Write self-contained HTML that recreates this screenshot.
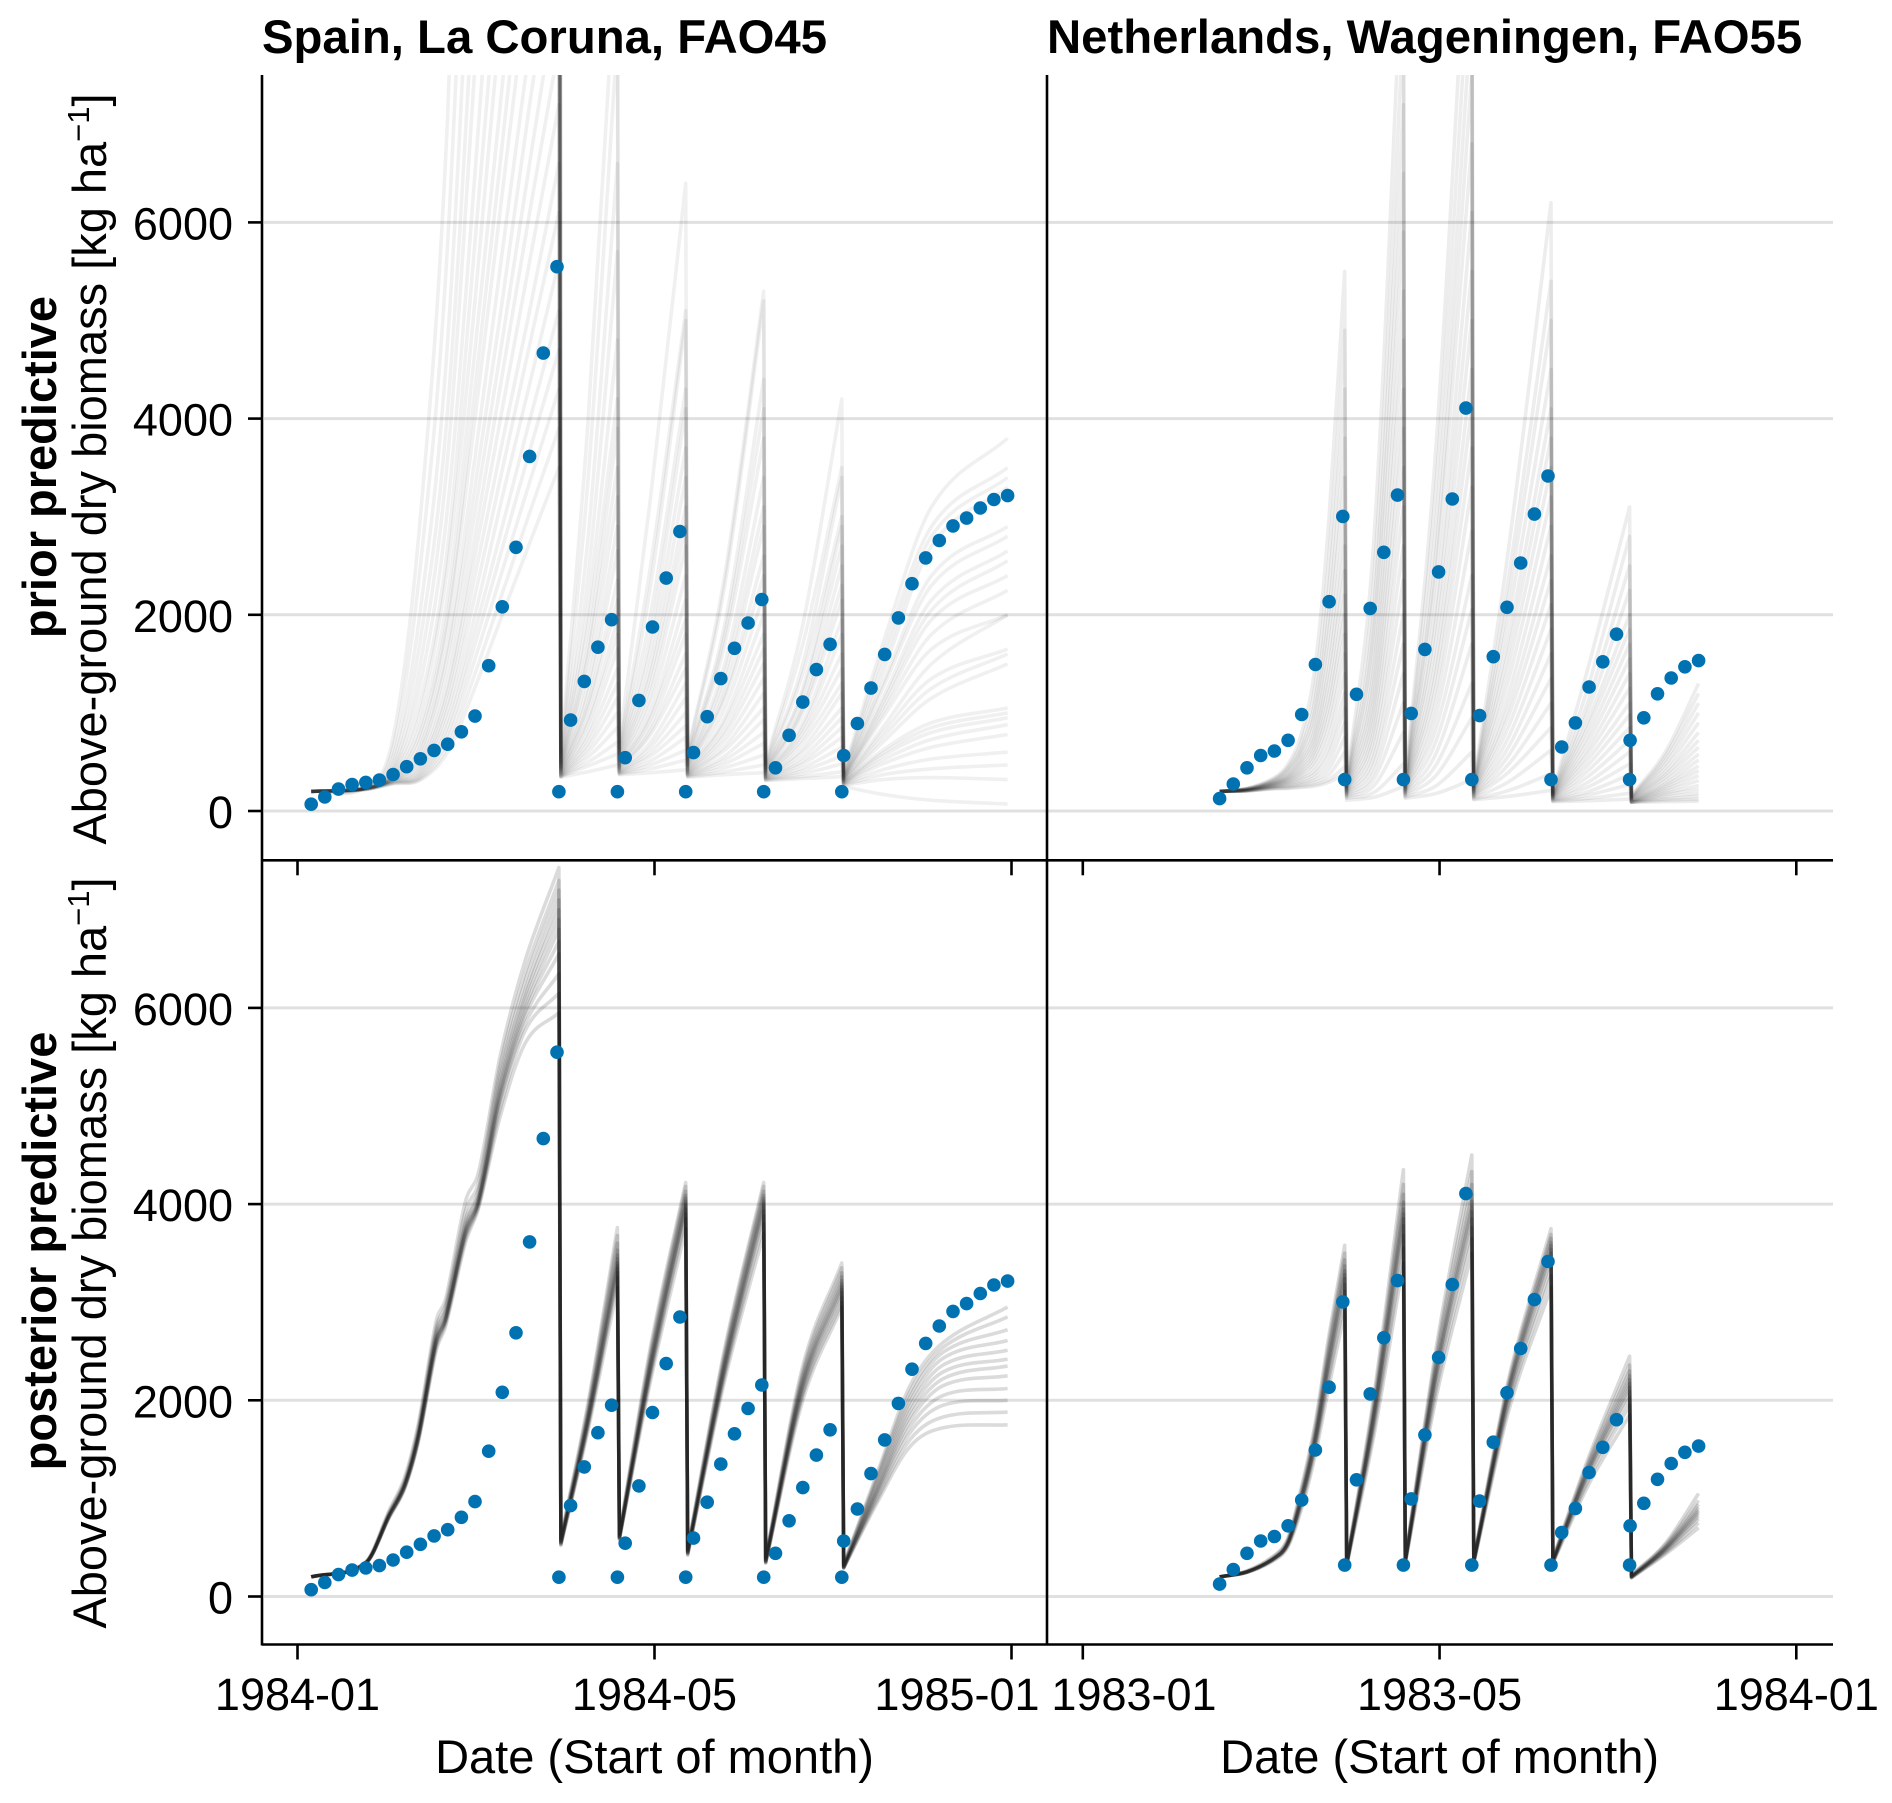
<!DOCTYPE html>
<html lang="en">
<head>
<meta charset="utf-8">
<title>Above-ground dry biomass predictive checks</title>
<style>
html,body{margin:0;padding:0;background:#fff;}
svg{display:block;font-family:"Liberation Sans",sans-serif;fill:#000;}
.title{font-size:47.3px;font-weight:bold;}
.tick{font-size:45px;}
.axis{font-size:47px;}
.row{font-size:47px;font-weight:bold;}
</style>
</head>
<body>
<svg id="chart" width="1892" height="1803" viewBox="0 0 1892 1803" xmlns="http://www.w3.org/2000/svg">
  <defs>
    <clipPath id="clip-a"><rect x="262" y="75" width="785" height="785"/></clipPath>
    <clipPath id="clip-b"><rect x="1047" y="75" width="786" height="785"/></clipPath>
    <clipPath id="clip-c"><rect x="262" y="860" width="785" height="785"/></clipPath>
    <clipPath id="clip-d"><rect x="1047" y="860" width="786" height="785"/></clipPath>
  </defs>
  <g id="grid"></g>
  <g id="series"></g>
  <g id="points"></g>
  <g id="axes"></g>

  <text class="title" x="262" y="53">Spain, La Coruna, FAO45</text>
  <text class="title" x="1047" y="53">Netherlands, Wageningen, FAO55</text>

  <text class="row" transform="translate(56,467) rotate(-90)" text-anchor="middle">prior predictive</text>
  <text class="row" transform="translate(56,1251) rotate(-90)" text-anchor="middle">posterior predictive</text>

  <text class="axis" transform="translate(106,469) rotate(-90)" text-anchor="middle">Above-ground dry biomass [kg ha<tspan font-size="31" dy="-17">−1</tspan><tspan dy="17">]</tspan></text>
  <text class="axis" transform="translate(106,1253) rotate(-90)" text-anchor="middle">Above-ground dry biomass [kg ha<tspan font-size="31" dy="-17">−1</tspan><tspan dy="17">]</tspan></text>

  <text class="axis" x="654.5" y="1773" text-anchor="middle">Date (Start of month)</text>
  <text class="axis" x="1439.6" y="1773" text-anchor="middle">Date (Start of month)</text>
</svg>
<script>
// ---- axis ticks ----
const yTickValues = [0, 2000, 4000, 6000];
const xTickDaysSpain = [0, 183, 366];
const xTickDaysNetherlands = [0, 182.5, 365];
const xTickLabelsSpain = ["1984-01", "1984-05", "1985-01"];
const xTickLabelsNetherlands = ["1983-01", "1983-05", "1984-01"];

// ---- observations, Spain ----
const obsDaysSpain = [7,14,21,28,35,42,49,56,63,70,77,84,91,98,105,112,119,126,133,140,147,154,161,168,175,182,189,196,203,210,217,224,231,238,245,252,259,266,273,280,287,294,301,308,315,322,329,336,343,350,357,364];
const obsValuesSpain = [69,143,223,269,292,315,372,452,532,618,681,807,967,1481,2082,2688,3615,4668,5548,927,1321,1670,1950,543,1127,1876,2374,2849,595,961,1350,1659,1916,2156,440,772,1110,1441,1699,566,892,1253,1596,1968,2317,2580,2757,2906,2986,3089,3175,3215];
const harvestDaysSpain = [134,164,199,239,279];
const harvestValuesSpain = [197,197,197,197,197];

// ---- observations, Netherlands ----
const obsDaysNetherlands = [70,77,84,91,98,105,112,119,126,133,140,147,154,161,168,175,182,189,196,203,210,217,224,231,238,245,252,259,266,273,280,287,294,301,308,315];
const obsValuesNetherlands = [126,275,440,566,612,721,984,1493,2134,3003,1190,2065,2637,3220,995,1647,2437,3180,4107,972,1573,2076,2528,3026,3415,652,898,1264,1521,1802,721,950,1195,1356,1470,1533];
const harvestDaysNetherlands = [134,164,199,239.5,279.7];
const harvestValuesNetherlands = [320,320,320,320,320];

// ---- ensemble knots ----
const priorKnotsSpain = [7,35,49,63,77,91,105,119,134,135,149,164,165,181,199,200,219,239,240,259,279,280,300,325,364];
const priorKnotsNetherlands = [70,84,98,105,112,119,126,134,135,149,164,165,181,199,200,218,239.5,240.5,259,279.7,280.7,298,315];
const posteriorKnotsSpain = [7,35,47,55,62,71,76,86,93,104,117,134,135,149,164,165,181,199,200,219,239,240,259,279,280,297,314,331,364];
const posteriorKnotsNetherlands = [70,84,98,105,112,119,126,134,135,149,164,165,181,199,200,218,239.5,240.5,259,279.7,280.7,298,315];

// ---- ensemble members ----
const priorMembersSpain = [
[200,240,750,3000,7100,15100,24000,33000,42000,600,4000,9000,700,3200,6400,600,2400,5300,500,1900,4200,400,1700,3100,3800],
[200,240,650,2500,5800,12200,19400,26500,34000,560,3400,7900,650,2500,5100,580,2300,5200,480,1700,3500,380,1600,2900,3500],
[200,240,560,2050,4800,10100,16000,21800,28000,520,2800,6600,620,2300,5000,560,1900,4400,470,1500,3400,370,1500,2800,3400],
[200,235,500,1750,4100,8600,13700,18700,24000,500,2400,5700,600,2000,4300,540,1800,4100,450,1400,3000,360,1400,2700,3300],
[200,235,450,1500,3600,7600,12000,16400,21000,480,2100,4800,580,1800,4100,520,1700,3800,440,1250,2900,350,1300,2400,2900],
[200,235,420,1300,3100,6500,10300,14000,18000,460,1900,4200,560,1650,3700,500,1500,3400,430,1200,2700,340,1250,2300,2800],
[200,235,400,1120,2700,5800,9100,12500,16000,450,1700,3900,540,1500,3400,480,1400,3100,420,1100,2500,340,1150,2150,2650],
[200,235,380,1000,2500,5200,8300,11300,14500,440,1600,3500,520,1400,3100,470,1300,2900,410,1050,2300,330,1100,2050,2550],
[200,235,365,880,2200,4700,7400,10100,13000,430,1450,3200,500,1300,2900,460,1200,2600,400,1000,2150,330,1050,1950,2400],
[200,230,355,800,2000,4300,6800,9400,12000,420,1300,2900,490,1200,2700,450,1150,2400,390,900,1950,320,1000,1800,2250],
[200,230,345,730,1900,4000,6300,8600,11000,410,1200,2650,470,1100,2400,430,1050,2200,380,850,1800,320,950,1650,2000],
[200,230,335,660,1700,3600,5700,7800,10000,400,1100,2350,460,1000,2150,420,950,2000,370,800,1600,310,850,1500,2000],
[200,230,330,610,1600,3300,5200,7200,9200,390,1050,2150,450,950,1950,410,900,1800,360,750,1450,310,800,1350,1650],
[200,230,325,560,1450,3050,4800,6600,8500,380,950,1950,440,880,1800,400,830,1650,350,700,1300,300,750,1250,1600],
[200,230,320,520,1300,2800,4450,6100,7800,380,900,1800,430,820,1600,390,780,1500,350,640,1200,300,700,1150,1500],
[200,225,315,480,1220,2600,4100,5600,7200,370,820,1650,420,780,1450,385,720,1350,340,600,1050,290,620,900,1050],
[200,225,310,450,1120,2400,3760,5100,6600,370,760,1450,410,700,1300,380,660,1200,340,550,950,290,590,850,1000],
[200,225,305,420,1040,2200,3480,4750,6100,360,700,1300,400,650,1150,375,620,1050,335,510,850,285,560,800,950],
[200,225,300,395,950,2000,3200,4350,5600,360,650,1150,395,600,1000,370,560,930,330,480,750,280,520,730,880],
[200,225,295,375,870,1840,2900,3980,5100,355,600,1000,390,560,870,365,520,800,325,440,650,275,480,650,780],
[200,220,290,355,800,1700,2680,3670,4700,355,550,850,385,510,750,360,480,690,320,410,560,270,420,530,600],
[200,220,285,340,730,1550,2450,3350,4300,350,500,700,380,470,620,355,440,570,318,380,480,265,370,430,470],
[200,220,280,325,660,1400,2220,3040,3900,350,460,580,375,430,520,350,400,470,315,350,400,260,320,340,320],
[200,220,275,315,600,1260,2000,2730,3500,345,400,470,370,390,420,345,370,390,310,330,350,250,170,110,70]
];
const priorMembersNetherlands = [
[200,230,340,480,800,1500,3000,5500,300,2800,9000,320,3800,10000,300,2700,6200,200,1500,3100,160,600,1300],
[200,230,330,450,720,1300,2600,4900,290,2400,8000,300,3400,9000,280,2400,5400,190,1300,2800,150,560,1200],
[200,225,320,430,660,1150,2300,4300,280,2100,7200,290,3000,8200,270,2200,5000,180,1150,2500,145,520,1100],
[200,225,310,410,620,1050,2050,3800,270,1900,6500,280,2700,7500,260,2000,4500,175,1050,2250,140,480,1000],
[200,225,305,390,580,950,1850,3400,260,1700,5900,270,2500,6800,250,1800,4100,170,950,2000,135,440,900],
[200,220,295,370,540,860,1650,3000,250,1500,5300,260,2200,6100,240,1650,3800,165,880,1850,130,400,800],
[200,220,290,360,510,790,1480,2700,240,1350,4800,250,2000,5500,230,1500,3500,160,800,1700,125,370,720],
[200,220,285,345,480,730,1340,2450,230,1200,4300,240,1800,5000,220,1350,3200,155,730,1550,120,340,650],
[200,215,280,335,450,670,1200,2200,220,1080,3900,230,1600,4500,210,1200,2900,150,660,1400,115,310,580],
[200,215,275,325,425,620,1090,2000,210,960,3500,220,1450,4100,200,1080,2600,145,600,1250,110,280,520],
[200,215,270,315,400,570,980,1800,200,850,3100,215,1300,3700,195,980,2350,140,540,1100,105,260,460],
[200,215,265,305,380,520,870,1600,195,750,2700,205,1150,3300,185,870,2100,135,480,980,100,240,410],
[200,210,260,295,355,470,760,1400,185,650,2350,195,1000,2850,175,760,1850,130,420,850,100,220,360],
[200,210,255,285,335,420,660,1200,175,560,2000,190,860,2400,165,660,1600,125,360,720,95,200,310],
[200,210,250,275,315,385,580,1050,170,480,1700,180,730,2050,155,570,1350,120,300,600,95,180,260],
[200,210,245,265,295,350,500,900,160,400,1400,170,600,1700,150,480,1100,115,250,480,90,165,220],
[200,210,240,255,280,320,430,750,150,330,1100,160,480,1300,140,400,850,110,200,370,90,145,180],
[200,205,235,245,265,295,370,600,140,260,800,150,370,950,130,300,620,105,165,270,90,125,150],
[200,205,230,235,250,270,320,450,130,190,480,140,260,600,120,210,380,100,130,180,90,110,120],
[200,205,225,230,240,255,295,380,110,140,250,130,180,320,115,150,210,95,105,120,90,95,100]
];
const posteriorMembersSpain = [
[200,335,800,1100,1580,2500,2760,3600,3970,4900,5650,5950,520,1700,3150,580,2200,3750,420,2200,3700,340,2000,2950,290,950,1530,1720,1750],
[200,338,810,1110,1600,2530,2790,3640,3990,4980,5780,6150,530,1740,3250,590,2250,3850,430,2250,3800,345,2050,3000,290,980,1600,1830,1880],
[200,340,815,1120,1610,2560,2810,3670,4010,5050,5850,6350,535,1760,3300,590,2280,3900,435,2280,3880,350,2080,3050,295,1010,1670,1950,2000],
[200,340,820,1125,1620,2580,2830,3690,4030,5090,5920,6550,540,1780,3340,595,2310,3950,440,2310,3930,355,2110,3100,295,1040,1730,2050,2120],
[200,340,820,1130,1630,2590,2830,3710,4040,5120,5970,6680,545,1790,3370,600,2330,3980,445,2330,3970,360,2140,3130,300,1060,1790,2150,2250],
[200,342,825,1135,1640,2600,2840,3720,4050,5150,6020,6800,550,1810,3400,600,2350,4000,450,2350,4000,360,2160,3160,300,1080,1840,2220,2350],
[200,342,830,1140,1650,2620,2860,3740,4070,5190,6080,6900,555,1830,3440,605,2370,4030,455,2370,4030,365,2180,3190,305,1100,1890,2290,2420],
[200,345,835,1150,1660,2640,2880,3770,4090,5230,6140,7000,560,1850,3480,610,2390,4060,460,2390,4060,370,2200,3220,305,1130,1940,2360,2510],
[200,345,840,1160,1680,2670,2910,3800,4130,5290,6200,7100,565,1870,3530,615,2420,4090,465,2420,4090,375,2230,3260,310,1160,1990,2430,2610],
[200,348,850,1170,1700,2700,2940,3840,4170,5350,6290,7200,575,1900,3600,620,2460,4130,470,2450,4130,380,2260,3300,315,1190,2040,2490,2720],
[200,350,860,1190,1730,2740,2980,3920,4240,5430,6380,7300,585,1940,3680,630,2500,4180,480,2490,4180,390,2300,3350,320,1220,2090,2540,2850],
[200,355,880,1220,1770,2800,3040,4020,4340,5520,6500,7430,600,1980,3760,640,2550,4220,490,2530,4220,400,2350,3400,330,1250,2150,2590,2950]
];
const posteriorMembersNetherlands = [
[200,245,370,510,900,1450,2150,2900,310,1650,3400,340,2050,3500,340,1900,3150,340,1150,1850,190,430,700],
[200,248,380,525,940,1510,2240,3020,315,1720,3550,345,2130,3650,345,1960,3270,345,1200,1950,195,445,750],
[200,250,385,535,965,1550,2300,3110,320,1770,3680,350,2200,3760,350,2000,3360,350,1240,2030,195,460,790],
[200,250,388,540,985,1575,2350,3180,325,1810,3780,355,2250,3850,355,2040,3440,355,1270,2090,200,470,820],
[200,250,390,545,1000,1595,2390,3240,330,1840,3850,360,2290,3920,360,2070,3500,360,1290,2130,200,478,845],
[200,250,390,550,1010,1610,2420,3280,330,1860,3900,360,2310,3970,360,2090,3540,360,1305,2170,200,485,865],
[200,252,392,555,1025,1630,2450,3320,335,1880,3950,365,2340,4030,365,2110,3580,365,1320,2210,205,492,885],
[200,252,395,560,1040,1655,2490,3370,335,1910,4020,370,2380,4100,370,2130,3610,370,1340,2250,205,500,910],
[200,255,400,570,1060,1690,2540,3430,340,1950,4100,375,2430,4200,375,2160,3650,375,1365,2300,210,510,940],
[200,258,410,585,1090,1730,2600,3500,345,2000,4200,380,2490,4330,380,2190,3690,380,1395,2360,215,525,980],
[200,262,420,600,1125,1780,2670,3580,350,2060,4350,390,2560,4500,390,2230,3750,390,1430,2450,220,540,1050]
];

// ---- scales ----
const SVGNS = "http://www.w3.org/2000/svg";
const PX_PER_UNIT = 0.0981;
const xSpain = d => 297.5 + d * (714 / 366);
const xNetherlands = d => 1082.8 + d * (713.5 / 365);
const yPrior = v => 811 - v * PX_PER_UNIT;
const yPosterior = v => 1596.5 - v * PX_PER_UNIT;

const gridLayer = document.getElementById('grid');
const seriesLayer = document.getElementById('series');
const pointsLayer = document.getElementById('points');
const axesLayer = document.getElementById('axes');

function make(tag, attrs, parent) {
  const el = document.createElementNS(SVGNS, tag);
  for (const k in attrs) el.setAttribute(k, attrs[k]);
  parent.appendChild(el);
  return el;
}

// Curve through the knots; a harvest (knots one day apart) stays a straight drop.
function curvePath(knots, values, xf, yf) {
  const n = knots.length;
  const xs = knots.map(xf);
  const ys = values.map(yf);
  const isDrop = i => i >= 0 && i < n - 1 && knots[i + 1] - knots[i] <= 1.5;
  const slope = i => {
    const hasPrev = i > 0 && !isDrop(i - 1);
    const hasNext = i < n - 1 && !isDrop(i);
    const a = hasPrev ? i - 1 : i;
    const b = hasNext ? i + 1 : i;
    return (ys[b] - ys[a]) / (xs[b] - xs[a]);
  };
  let d = 'M' + xs[0].toFixed(1) + ' ' + ys[0].toFixed(1);
  for (let i = 0; i < n - 1; i++) {
    if (isDrop(i)) {
      d += 'L' + xs[i + 1].toFixed(1) + ' ' + ys[i + 1].toFixed(1);
    } else {
      const dx = (xs[i + 1] - xs[i]) / 3;
      d += 'C' + (xs[i] + dx).toFixed(1) + ' ' + (ys[i] + slope(i) * dx).toFixed(1) + ' ' +
           (xs[i + 1] - dx).toFixed(1) + ' ' + (ys[i + 1] - slope(i + 1) * dx).toFixed(1) + ' ' +
           xs[i + 1].toFixed(1) + ' ' + ys[i + 1].toFixed(1);
    }
  }
  return d;
}

function drawMembers(knots, members, xf, yf, clipId, opacity, width, name) {
  const group = make('g', {'clip-path': 'url(#' + clipId + ')'}, seriesLayer);
  
  
  members.forEach(function (values) {
    const line = make('path', {d: curvePath(knots, values, xf, yf), fill: 'none', stroke: '#000', 'stroke-opacity': opacity, 'stroke-width': width, 'stroke-linejoin': 'round'}, group);
    
    
  });
}

function drawDots(days, values, xf, yf, name) {
  days.forEach(function (d, i) {
    const dot = make('circle', {cx: xf(d).toFixed(1), cy: yf(values[i]).toFixed(1), r: 6.8, fill: '#0072B2'}, pointsLayer);
    
    
  });
}

function drawGrid(yf) {
  yTickValues.forEach(function (v) {
    const g = make('line', {x1: 264, x2: 1833, y1: yf(v), y2: yf(v), stroke: '#000', 'stroke-opacity': 0.12, 'stroke-width': 3}, gridLayer);
    
    
  });
}

function drawYTicks(yf) {
  yTickValues.forEach(function (v) {
    const t = make('line', {x1: 248, x2: 262, y1: yf(v), y2: yf(v), stroke: '#000', 'stroke-width': 2.6}, axesLayer);
    
    
    const label = make('text', {x: 233, y: yf(v) + 17, 'text-anchor': 'end', 'class': 'tick'}, axesLayer);
    label.textContent = String(v);
    
    
  });
}

function drawXTicks(days, xf, labels, axisY, showLabels, minCentre, maxCentre) {
  days.forEach(function (d, i) {
    const t = make('line', {x1: xf(d), x2: xf(d), y1: axisY, y2: axisY + 15, stroke: '#000', 'stroke-width': 2.6}, axesLayer);
    
    
    if (showLabels) {
      const centre = Math.min(maxCentre, Math.max(minCentre, xf(d)));
      const label = make('text', {x: centre, y: 1710, 'text-anchor': 'middle', 'class': 'tick'}, axesLayer);
      label.textContent = labels[i];
      
      
    }
  });
}

function drawSpines() {
  const left = make('line', {x1: 262, x2: 262, y1: 75, y2: 1645.5, stroke: '#000', 'stroke-width': 2.6}, axesLayer);
  
  
  const middle = make('line', {x1: 1047, x2: 1047, y1: 75, y2: 1645.5, stroke: '#000', 'stroke-width': 2.6}, axesLayer);
  
  
  const upper = make('line', {x1: 262, x2: 1833, y1: 860.3, y2: 860.3, stroke: '#000', 'stroke-width': 2.6}, axesLayer);
  
  
  const lower = make('line', {x1: 262, x2: 1833, y1: 1644.5, y2: 1644.5, stroke: '#000', 'stroke-width': 2.6}, axesLayer);
  
  
}

drawGrid(yPrior);
drawGrid(yPosterior);

drawMembers(priorKnotsSpain, priorMembersSpain, xSpain, yPrior, 'clip-a', 0.06, 3.6, 'prior-lines-spain');
drawMembers(priorKnotsNetherlands, priorMembersNetherlands, xNetherlands, yPrior, 'clip-b', 0.07, 3.6, 'prior-lines-netherlands');
drawMembers(posteriorKnotsSpain, posteriorMembersSpain, xSpain, yPosterior, 'clip-c', 0.14, 3.6, 'posterior-lines-spain');
drawMembers(posteriorKnotsNetherlands, posteriorMembersNetherlands, xNetherlands, yPosterior, 'clip-d', 0.15, 3.6, 'posterior-lines-netherlands');

[[yPrior, 'prior'], [yPosterior, 'posterior']].forEach(function (row) {
  drawDots(obsDaysSpain, obsValuesSpain, xSpain, row[0], 'observation-spain-' + row[1]);
  drawDots(harvestDaysSpain, harvestValuesSpain, xSpain, row[0], 'harvest-spain-' + row[1]);
  drawDots(obsDaysNetherlands, obsValuesNetherlands, xNetherlands, row[0], 'observation-netherlands-' + row[1]);
  drawDots(harvestDaysNetherlands, harvestValuesNetherlands, xNetherlands, row[0], 'harvest-netherlands-' + row[1]);
});

drawYTicks(yPrior);
drawYTicks(yPosterior);
drawXTicks(xTickDaysSpain, xSpain, xTickLabelsSpain, 860.3, false, 0, 1892);
drawXTicks(xTickDaysNetherlands, xNetherlands, xTickLabelsNetherlands, 860.3, false, 0, 1892);
drawXTicks(xTickDaysSpain, xSpain, xTickLabelsSpain, 1644.5, true, 0, 957);
drawXTicks(xTickDaysNetherlands, xNetherlands, xTickLabelsNetherlands, 1644.5, true, 1134, 1892);
drawSpines();
</script>
</body>
</html>
